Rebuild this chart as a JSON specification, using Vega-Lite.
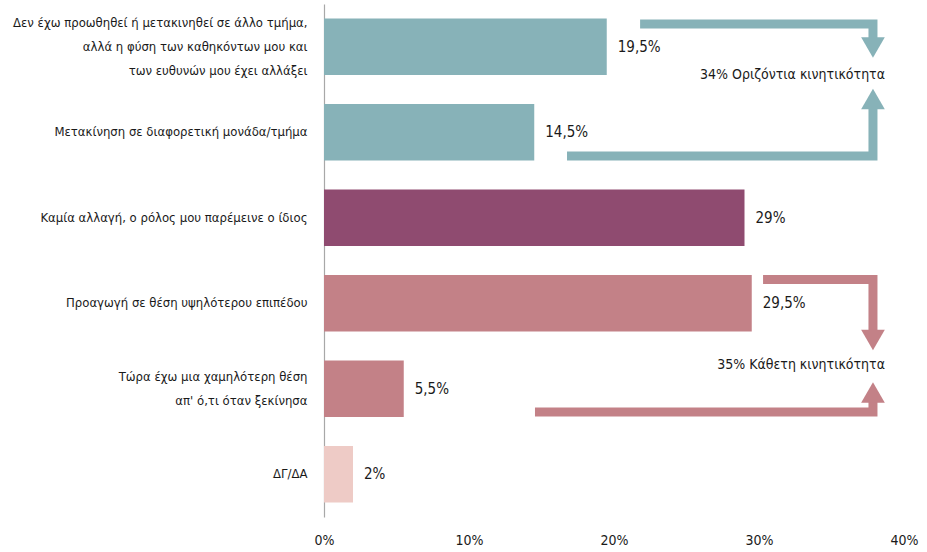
{
  "$schema": "https://vega.github.io/schema/vega-lite/v6.json",
  "width": 580,
  "height": 513,
  "autosize": {"type": "none"},
  "padding": {"left": 324, "top": 4, "right": 23, "bottom": 35},
  "background": "white",
  "config": {
    "view": {"stroke": null},
    "font": "DejaVu Sans Condensed, Liberation Sans Narrow, sans-serif",
    "text": {"font": "DejaVu Sans Condensed, Liberation Sans Narrow, sans-serif"}
  },
  "datasets": {
    "bars": [
      {"cat": "Δεν έχω προωθηθεί ή μετακινηθεί σε άλλο τμήμα,\nαλλά η φύση των καθηκόντων μου και\nτων ευθυνών μου έχει αλλάξει", "value": 19.5, "label": "19,5%", "mobility": "horizontal"},
      {"cat": "Μετακίνηση σε διαφορετική μονάδα/τμήμα", "value": 14.5, "label": "14,5%", "mobility": "horizontal"},
      {"cat": "Καμία αλλαγή, ο ρόλος μου παρέμεινε ο ίδιος", "value": 29, "label": "29%", "mobility": "none"},
      {"cat": "Προαγωγή σε θέση υψηλότερου επιπέδου", "value": 29.5, "label": "29,5%", "mobility": "vertical"},
      {"cat": "Τώρα έχω μια χαμηλότερη θέση\nαπ' ό,τι όταν ξεκίνησα", "value": 5.5, "label": "5,5%", "mobility": "vertical"},
      {"cat": "ΔΓ/ΔΑ", "value": 2, "label": "2%", "mobility": "dkna"}
    ],
    "arrows": [
      {"arrow": "a1", "mobility": "horizontal", "step": 1, "x": 21.8, "y": 0.234},
      {"arrow": "a1", "mobility": "horizontal", "step": 2, "x": 37.86, "y": 0.234},
      {"arrow": "a1", "mobility": "horizontal", "step": 3, "x": 37.86, "y": 0.42},
      {"arrow": "a2", "mobility": "horizontal", "step": 1, "x": 16.76, "y": 1.778},
      {"arrow": "a2", "mobility": "horizontal", "step": 2, "x": 37.86, "y": 1.778},
      {"arrow": "a2", "mobility": "horizontal", "step": 3, "x": 37.86, "y": 1.19},
      {"arrow": "a3", "mobility": "vertical", "step": 1, "x": 30.28, "y": 3.222},
      {"arrow": "a3", "mobility": "vertical", "step": 2, "x": 37.86, "y": 3.222},
      {"arrow": "a3", "mobility": "vertical", "step": 3, "x": 37.86, "y": 3.85},
      {"arrow": "a4", "mobility": "vertical", "step": 1, "x": 14.55, "y": 4.772},
      {"arrow": "a4", "mobility": "vertical", "step": 2, "x": 37.86, "y": 4.772},
      {"arrow": "a4", "mobility": "vertical", "step": 3, "x": 37.86, "y": 4.63}
    ],
    "heads": [
      {"mobility": "horizontal", "dir": "down", "x": 37.86, "y": 0.509},
      {"mobility": "horizontal", "dir": "up", "x": 37.86, "y": 1.111},
      {"mobility": "vertical", "dir": "down", "x": 37.86, "y": 3.93},
      {"mobility": "vertical", "dir": "up", "x": 37.86, "y": 4.544}
    ],
    "notes": [
      {"text": "34% Οριζόντια κινητικότητα", "x": 38.69, "y": 0.83},
      {"text": "35% Κάθετη κινητικότητα", "x": 38.69, "y": 4.222}
    ]
  },
  "layer": [
    {
      "data": {"name": "bars"},
      "encoding": {
        "y": {
          "field": "cat",
          "type": "nominal",
          "sort": null,
          "scale": {"paddingInner": 0.34, "paddingOuter": 0.17},
          "axis": {
            "title": null,
            "ticks": false,
            "grid": false,
            "domain": true,
            "domainColor": "#a8a8a8",
            "domainWidth": 1.2,
            "labelExpr": "split(datum.label, '\\n')",
            "labelFontSize": 13,
            "labelLineHeight": 24,
            "labelColor": "#1a1a1a",
            "labelPadding": 17,
            "labelLimit": 0,
            "labelOffset": {
              "condition": [
                {"test": "length(split(datum.value, '\\n')) == 3", "value": -24},
                {"test": "length(split(datum.value, '\\n')) == 2", "value": -12}
              ],
              "value": 0
            }
          }
        },
        "x": {
          "field": "value",
          "type": "quantitative",
          "scale": {"domain": [0, 40], "nice": false},
          "axis": {
            "title": null,
            "values": [0, 10, 20, 30, 40],
            "labelExpr": "datum.value + '%'",
            "ticks": false,
            "domain": false,
            "grid": false,
            "labelFlush": false,
            "labelOverlap": false,
            "labelFontSize": 14,
            "labelColor": "#1a1a1a",
            "labelPadding": 16
          }
        }
      },
      "layer": [
        {
          "mark": {"type": "bar"},
          "encoding": {
            "color": {
              "field": "mobility",
              "type": "nominal",
              "scale": {"domain": ["horizontal", "none", "vertical", "dkna"], "range": ["#87b2b8", "#8f4b70", "#c38187", "#eecbc6"]},
              "legend": null
            }
          }
        },
        {
          "mark": {"type": "text", "align": "left", "baseline": "middle", "dx": 11, "fontSize": 15, "color": "#1a1a1a"},
          "encoding": {"text": {"field": "label"}}
        }
      ]
    },
    {
      "layer": [
        {
          "data": {"name": "arrows"},
          "mark": {"type": "line", "strokeWidth": 9, "strokeCap": "butt", "strokeJoin": "miter"},
          "encoding": {
            "x": {"field": "x", "type": "quantitative", "scale": {"domain": [0, 40], "nice": false}},
            "y": {"field": "y", "type": "quantitative", "scale": {"domain": [0, 6], "reverse": true, "nice": false, "zero": false}, "axis": null},
            "detail": {"field": "arrow"},
            "order": {"field": "step", "type": "quantitative"},
            "color": {
              "field": "mobility",
              "type": "nominal",
              "scale": {"domain": ["horizontal", "none", "vertical", "dkna"], "range": ["#87b2b8", "#8f4b70", "#c38187", "#eecbc6"]},
              "legend": null
            }
          }
        },
        {
          "data": {"name": "heads"},
          "mark": {"type": "point", "filled": true, "opacity": 1, "size": 560, "strokeWidth": 0},
          "encoding": {
            "x": {"field": "x", "type": "quantitative"},
            "y": {"field": "y", "type": "quantitative"},
            "shape": {"field": "dir", "type": "nominal", "scale": {"domain": ["down", "up"], "range": ["triangle-down", "triangle-up"]}, "legend": null},
            "color": {"field": "mobility", "type": "nominal", "legend": null}
          }
        },
        {
          "data": {"name": "notes"},
          "mark": {"type": "text", "align": "right", "baseline": "middle", "fontSize": 14, "color": "#1a1a1a"},
          "encoding": {
            "x": {"field": "x", "type": "quantitative"},
            "y": {"field": "y", "type": "quantitative"},
            "text": {"field": "text"}
          }
        }
      ]
    }
  ],
  "resolve": {"scale": {"y": "independent"}}
}
